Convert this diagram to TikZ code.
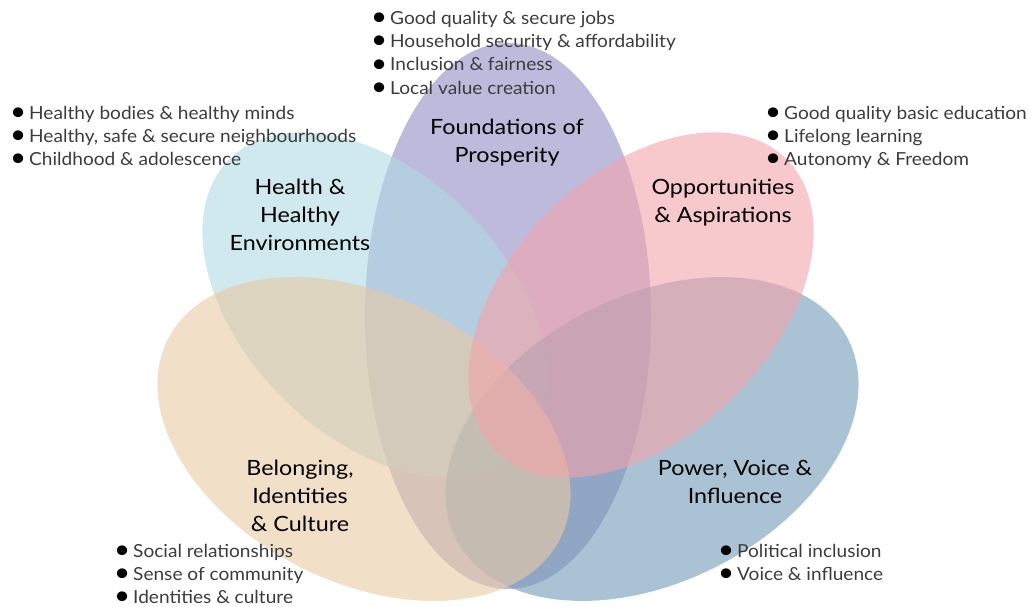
\documentclass[tikz,border=0pt]{standalone}
\usepackage{fontspec}
\setmainfont{Lato}
\newfontfamily\headfont{Lato}[FakeStretch=1.11]
\newfontfamily\itemfont{Lato}[FakeStretch=1.06]
\definecolor{cH}{RGB}{175,218,227}
\definecolor{cF}{RGB}{147,140,197}
\definecolor{cO}{RGB}{242,163,170}
\definecolor{cB}{RGB}{233,201,163}
\definecolor{cP}{RGB}{113,155,183}
\definecolor{itemgray}{RGB}{60,60,60}
\newcommand{\bitem}[1]{\makebox[19pt][l]{\textcolor{black}{\raisebox{-0.15ex}{\scalebox{1.45}{•}}}}#1}
\tikzset{
  petal/.style={fill opacity=0.6, draw=none},
  head/.style={font=\headfont\fontsize{21}{28}\selectfont, text=black, align=center, inner sep=0pt},
  items/.style={font=\itemfont\fontsize{18}{23.3}\selectfont, text=itemgray, align=left, inner sep=0pt, anchor=base west}
}
\begin{document}
\begin{tikzpicture}[x=1pt,y=1pt]
\useasboundingbox (0,0) rectangle (1028,-606);
% petals
\fill[petal, fill=cF] (508,-316) ellipse [x radius=143pt, y radius=273pt];
\fill[petal, fill=cH, rotate around={-45:(375,-305)}] (375,-305) ellipse [x radius=206pt, y radius=131pt];
\fill[petal, fill=cP, rotate around={27:(652,-439)}] (652,-439) ellipse [x radius=220pt, y radius=143pt];
\fill[petal, fill=cB, rotate around={-27:(364,-439)}] (364,-439) ellipse [x radius=220pt, y radius=143pt];
\fill[petal, fill=cO, rotate around={45:(641,-305)}] (641,-305) ellipse [x radius=206pt, y radius=131pt];
% headings
\node[head] (hF) at (507,-143) {Foundations of\\Prosperity};
\node[head] (hH) at (300,-215) {Health \&\\Healthy\\Environments};
\node[head] (hO) at (723,-203) {Opportunities\\\& Aspirations};
\node[head] (hB) at (300,-496) {Belonging,\\Identities\\\& Culture};
\node[head] (hP) at (735,-482) {Power, Voice \&\\Influence};
% item lists (anchored at the baseline of the last line)
\node[items] (lF) at (371,-94) {\bitem{Good quality \& secure jobs}\\\bitem{Household security \& affordability}\\\bitem{Inclusion \& fairness}\\\bitem{Local value creation}};
\node[items] (lH) at (10,-165.6) {\bitem{Healthy bodies \& healthy minds}\\\bitem{Healthy, safe \& secure neighbourhoods}\\\bitem{Childhood \& adolescence}};
\node[items] (lO) at (765,-165.6) {\bitem{Good quality basic education}\\\bitem{Lifelong learning}\\\bitem{Autonomy \& Freedom}};
\node[items] (lB) at (114,-603.6) {\bitem{Social relationships}\\\bitem{Sense of community}\\\bitem{Identities \& culture}};
\node[items] (lP) at (718,-580.3) {\bitem{Political inclusion}\\\bitem{Voice \& influence}};
\end{tikzpicture}
\end{document}
